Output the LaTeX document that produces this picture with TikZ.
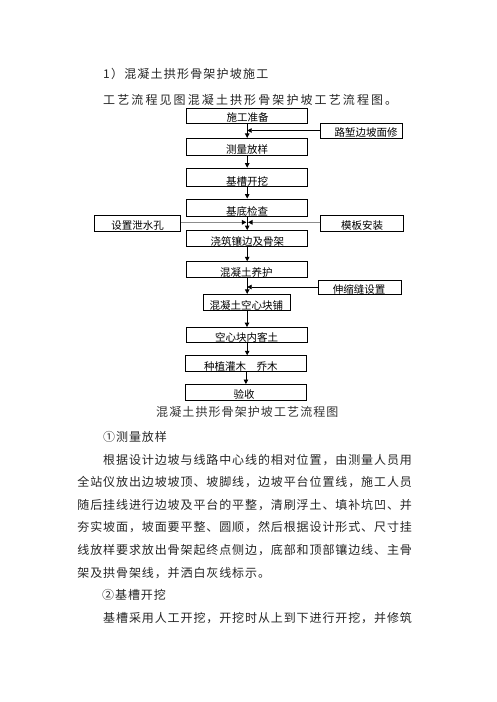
\documentclass[tikz,border=0pt]{standalone}
\usepackage{fontspec}
\newfontfamily\cjk{Noto Sans CJK SC}
\usetikzlibrary{arrows.meta}
\newlength\gapw
\def\spchars#1{\ifx#1\relax\else#1\hspace{\gapw}\expandafter\spchars\fi}
\newcommand\bl[2]{\setlength\gapw{#1}\spchars#2\relax}
\newcommand\boxfont{\cjk\fontsize{10.5}{12}\selectfont}
\newcommand\bodyfont{\cjk\fontsize{12}{14}\selectfont}
\tikzset{
  box/.style={draw=black, line width=0.8pt, inner sep=0pt},
  lbl/.style={font=\boxfont, anchor=base, yshift=-4pt, inner sep=0pt, text=black},
  body/.style={font=\bodyfont, anchor=base west, yshift=-4.56pt, inner sep=0pt, text=black!85},
  arr/.style={line width=0.8pt, -{Triangle[length=4.5pt,width=4.5pt]}},
  garr/.style={line width=1.2pt, draw=black!45, -{Triangle[length=4.5pt,width=4.5pt,color=black]}}
}
\begin{document}
\begin{tikzpicture}[x=1pt,y=-1pt]
\fill[white] (0,0) rectangle (496,702);
\useasboundingbox (0,0) rectangle (496,702);

% headings
\node[body] (h1) at (103,74) {\bl{1.2pt}{1）混凝土拱形骨架护坡施工}};
\node[body] (h2) at (103,100) {\bl{2.1pt}{工艺流程见图混凝土拱形骨架护坡工艺流程图。}};

% boxes
\node[box, minimum width=121pt, minimum height=15pt] (prep) at (247.2,115.5) {};
\node[box, minimum width=82pt, minimum height=15pt] (cut) at (361,130.5) {};
\node[box, minimum width=121pt, minimum height=16.7pt] (meas) at (247.2,146.7) {};
\node[box, minimum width=121pt, minimum height=18.5pt] (trench) at (247.2,177.3) {};
\node[box, minimum width=121pt, minimum height=17.7pt] (base) at (247.2,207.8) {};
\node[box, minimum width=86.7pt, minimum height=15.3pt] (drain) at (137.3,223.3) {};
\node[box, minimum width=82.3pt, minimum height=15.3pt] (form) at (361.8,223.3) {};
\node[box, minimum width=121pt, minimum height=16.2pt] (pour) at (247.2,238.6) {};
\node[box, minimum width=121pt, minimum height=15.6pt] (cure) at (247.2,269.5) {};
\node[box, minimum width=83.4pt, minimum height=14pt] (joint) at (360,287) {};
\node[box, minimum width=87.4pt, minimum height=16.4pt] (hollow) at (247,302.5) {};
\node[box, minimum width=121pt, minimum height=15.2pt] (soil) at (247.2,335.1) {};
\node[box, minimum width=121.7pt, minimum height=15.3pt] (plant) at (245.9,363.3) {};
\node[box, minimum width=121.7pt, minimum height=15.5pt] (accept) at (245.9,392.2) {};

% box texts
\node[lbl] (prepT) at (247.5,117.8) {施工准备};
\node[lbl] (cutT) at (366,132.7) {路堑边坡面修};
\node[lbl] (measT) at (247.2,149) {测量放样};
\node[lbl] (trenchT) at (247,181.3) {基槽开挖};
\node[lbl] (baseT) at (247.2,211.5) {基底检查};
\node[lbl] (drainT) at (137.5,225.8) {设置泄水孔};
\node[lbl] (formT) at (362,225.8) {模板安装};
\node[lbl] (pourT) at (247.3,241.5) {浇筑镶边及骨架};
\node[lbl] (cureT) at (246.3,272.3) {混凝土养护};
\node[lbl] (jointT) at (359,289) {伸缩缝设置};
\node[lbl] (hollowT) at (246.3,305.7) {混凝土空心块铺};
\node[lbl] (soilT) at (246.7,337.7) {空心块内客土};
\node[lbl] (plantT) at (240.8,366) {种植灌木　乔木};
\node[lbl] (acceptT) at (244,394.8) {验收};

% connectors
\draw[arr] (prep.south) -- (prep.south |- meas.north);
\draw[arr] (cut.west) -- (cut.west -| prep.south);
\draw[arr] (meas.south) -- (meas.south |- trench.north);
\draw[arr] (trench.south) -- (trench.south |- base.north);
\draw[arr] (base.south) -- (base.south |- pour.north);
\coordinate (jl) at (246.4,222.3);
\coordinate (jr) at (248.0,222.3);
\draw[garr] (drain.east |- jl) -- (jl);
\draw[garr] (form.west |- jr) -- (jr);
\draw[arr] (pour.south) -- (pour.south |- cure.north);
\draw[arr] (cure.south) -- (cure.south |- hollow.north);
\draw[arr] (joint.west) -- (joint.west -| cure.south);
\draw[arr] (hollow.south) -- (hollow.south |- soil.north);
\draw[arr] (soil.south) -- (soil.south |- plant.north);
\draw[arr] (plant.south) -- (plant.south |- accept.north);

% caption
\node[body, text=black!80] (cap) at (156,411.7) {\bl{1.1pt}{混凝土拱形骨架护坡工艺流程图}};

% body text
\node[body] (t1) at (103,437) {\bl{0.9pt}{①测量放样}};
\node[body] (t2) at (103,459.6) {\bl{0.9pt}{根据设计边坡与线路中心线的相对位置，由测量人员用}};
\node[body] (t3) at (77.2,482.2) {\bl{0.9pt}{全站仪放出边坡坡顶、坡脚线，边坡平台位置线，施工人员}};
\node[body] (t4) at (77.2,504.8) {\bl{0.9pt}{随后挂线进行边坡及平台的平整，清刷浮土、填补坑凹、并}};
\node[body] (t5) at (77.2,527.4) {\bl{0.9pt}{夯实坡面，坡面要平整、圆顺，然后根据设计形式、尺寸挂}};
\node[body] (t6) at (77.2,550) {\bl{0.9pt}{线放样要求放出骨架起终点侧边，底部和顶部镶边线、主骨}};
\node[body] (t7) at (77.2,572.6) {\bl{0.9pt}{架及拱骨架线，并洒白灰线标示。}};
\node[body] (t8) at (102,595.2) {\bl{0.9pt}{②基槽开挖}};
\node[body] (t9) at (103,617.8) {\bl{0.9pt}{基槽采用人工开挖，开挖时从上到下进行开挖，并修筑}};
\end{tikzpicture}
\end{document}
